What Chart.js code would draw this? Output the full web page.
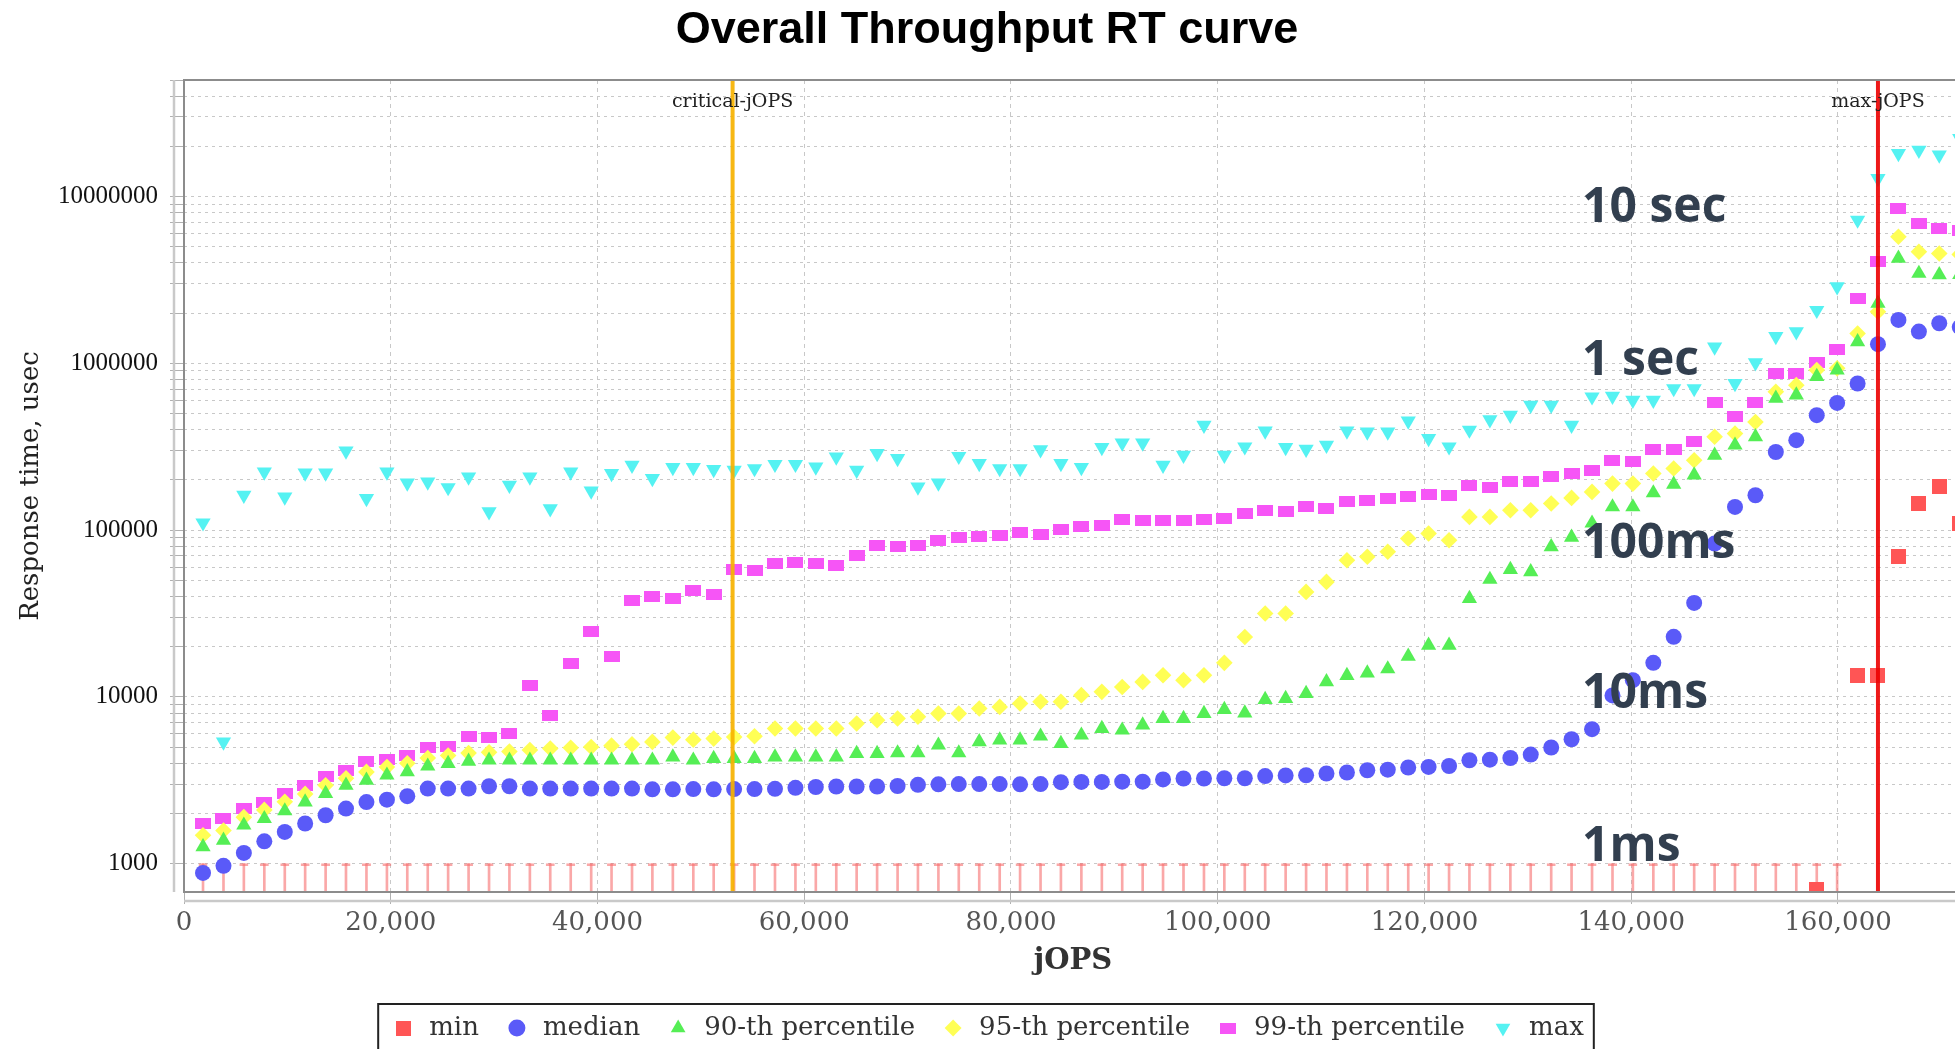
<!DOCTYPE html>
<html>
<head>
<meta charset="utf-8">
<title>Overall Throughput RT curve</title>
<script src="https://cdn.jsdelivr.net/npm/chart.js@4.4.1/dist/chart.umd.min.js"></script>
<style>
  html, body { margin: 0; padding: 0; background: #ffffff; overflow: hidden; }
  #wrap { width: 1972px; height: 1051px; }
  canvas { display: block; }
</style>
</head>
<body>
<div id="wrap"><canvas id="rt" width="1972" height="1051"></canvas></div>
<script>
// ---- RT-curve steps: throughput (jOPS) of each step ----
const jops = [
  1840, 3820, 5790, 7770, 9750, 11720, 13700, 15670, 17650, 19630,
  21600, 23580, 25550, 27530, 29510, 31480, 33460, 35430, 37410, 39390,
  41360, 43340, 45310, 47290, 49270, 51240, 53220, 55190, 57170, 59150,
  61120, 63100, 65070, 67050, 69030, 71000, 72980, 74950, 76930, 78910,
  80880, 82860, 84830, 86810, 88790, 90760, 92740, 94710, 96690, 98670,
  100640, 102620, 104590, 106570, 108550, 110520, 112500, 114470, 116450, 118430,
  120400, 122380, 124350, 126330, 128310, 130280, 132260, 134230, 136210, 138190,
  140160, 142140, 144110, 146090, 148070, 150040, 152020, 153990, 155970, 157950,
  159920, 161900, 163870, 165850, 167830, 169800, 171780
];

// ---- response times, usec (null = below the plotted range) ----
const minRt = [
  null, null, null, null, null, null, null, null, null, null,
  null, null, null, null, null, null, null, null, null, null,
  null, null, null, null, null, null, null, null, null, null,
  null, null, null, null, null, null, null, null, null, null,
  null, null, null, null, null, null, null, null, null, null,
  null, null, null, null, null, null, null, null, null, null,
  null, null, null, null, null, null, null, null, null, null,
  null, null, null, null, null, null, null, null, null, 700,
  null, 13400, 13400, 69000, 144500, 181500, 109000
];
const medianRt = [
  880, 970, 1160, 1360, 1550, 1740, 1950, 2140, 2340, 2420,
  2540, 2820, 2820, 2820, 2910, 2910, 2820, 2820, 2820, 2820,
  2820, 2820, 2790, 2790, 2800, 2790, 2800, 2800, 2810, 2850,
  2880, 2900, 2900, 2900, 2920, 2970, 2990, 3000, 3000, 3000,
  2990, 3000, 3080, 3090, 3090, 3100, 3100, 3200, 3240, 3240,
  3250, 3250, 3350, 3380, 3390, 3470, 3520, 3630, 3660, 3770,
  3800, 3850, 4170, 4200, 4300, 4510, 4970, 5570, 6400, 10200,
  12600, 16000, 22900, 36600, 83000, 137700, 161800, 294000, 346000, 489000,
  579000, 757000, 1303000, 1820000, 1550000, 1740000, 1650000
];
const p90Rt = [
  1260, 1380, 1700, 1860, 2070, 2340, 2630, 2950, 3160, 3390,
  3550, 3840, 3980, 4110, 4170, 4170, 4170, 4170, 4170, 4170,
  4170, 4170, 4170, 4360, 4170, 4260, 4260, 4260, 4360, 4360,
  4360, 4360, 4570, 4570, 4610, 4610, 5130, 4610, 5370, 5500,
  5500, 5810, 5250, 5890, 6460, 6310, 6770, 7420, 7420, 7940,
  8400, 8000, 9640, 9780, 10470, 12300, 13400, 13900, 14700, 17500,
  20400, 20400, 38900, 50600, 58000, 56200, 79400, 90400, 110000, 137700,
  137700, 167000, 188000, 214000, 281000, 323000, 363000, 617000, 646000, 832000,
  912000, 1346000, 2290000, 4260000, 3460000, 3390000, 3400000
];
const p95Rt = [
  1480, 1580, 1900, 2100, 2350, 2620, 2950, 3250, 3550, 3800,
  4000, 4300, 4450, 4600, 4650, 4700, 4800, 4900, 4950, 5000,
  5100, 5200, 5370, 5700, 5540, 5620, 5740, 5810, 6460, 6460,
  6460, 6460, 6920, 7250, 7420, 7600, 7940, 7940, 8510, 8710,
  9120, 9340, 9340, 10240, 10720, 11470, 12300, 13490, 12600, 13490,
  16000, 22880, 31600, 31600, 42600, 48900, 66000, 69200, 74100, 89100,
  95500, 87000, 120000, 120000, 131600, 131600, 144500, 156000, 169500, 190000,
  190000, 218500, 234000, 262500, 363000, 379000, 445000, 675000, 740000, 912000,
  933000, 1510000, 2040000, 5740000, 4670000, 4560000, 4500000
];
const p99Rt = [
  1740, 1860, 2140, 2340, 2650, 2950, 3340, 3630, 4070, 4200,
  4470, 4970, 5010, 5810, 5700, 6070, 11750, 7760, 15850, 24500,
  17520, 37600, 39800, 38900, 43600, 40900, 58000, 57500, 63000, 63600,
  63000, 61600, 70800, 81300, 80200, 81300, 86200, 90400, 91800, 93000,
  96200, 94300, 100800, 105400, 106900, 115800, 113500, 113500, 114600, 115800,
  117400, 125800, 131600, 128800, 137700, 134600, 147600, 151000, 154700, 158000,
  164000, 161800, 186000, 180000, 194500, 194500, 208500, 218500, 228600, 262500,
  256500, 304000, 304000, 338000, 579000, 478000, 579000, 871000, 871000, 1008000,
  1210000, 2450000, 4060000, 8490000, 6900000, 6440000, 6300000
];
const maxRt = [
  110600, 5370, 161800, 223400, 158000, 220000, 220000, 298000, 154700, 223400,
  192000, 194500, 180000, 208500, 128800, 186000, 208500, 134600, 223400, 171800,
  218500, 245000, 204000, 237500, 237500, 231000, 228600, 234000, 248000, 248000,
  239000, 275000, 228600, 288000, 268700, 181500, 192000, 277000, 250800, 234000,
  234000, 304000, 250800, 237500, 313000, 333500, 333500, 245000, 281000, 425500,
  281000, 315800, 393500, 313000, 306000, 323000, 393000, 388000, 388000, 452000,
  355000, 315800, 398000, 460000, 489000, 561000, 561000, 425500, 630000, 635000,
  601000, 601000, 706000, 706000, 1256000, 757000, 1008000, 1450000, 1550000, 2080000,
  2880000, 7230000, 12850000, 18150000, 19000000, 17750000, 22340000
];

// ---- reference levels ----
const CRITICAL_JOPS = 53070;
const MAX_JOPS = 163870;
const ONE_MS = 1000;              // top of the min-range whiskers

// ---- axes ----
const X_MIN = 0, X_MAX = 172000;
const Y_MIN = 676, Y_MAX = 50000000;
const xTickValues = [0, 20000, 40000, 60000, 80000, 100000, 120000, 140000, 160000];
const yDecades = [1000, 10000, 100000, 1000000, 10000000];
const yMinorSteps = [1, 2, 3, 4, 5, 6, 7, 8, 9];

// ---- time-unit captions along the right side ----
const rtCaptions = ['10 sec', '1 sec', '100ms', '10ms', '1ms'];
const rtCaptionValues = [10000000, 1000000, 100000, 10000, 1000];
const RT_CAPTION_JOPS = 135250;

const seriesNames = ['min', 'median', '90-th percentile', '95-th percentile', '99-th percentile', 'max'];
const markerLines = [
  { label: 'critical-jOPS', value: CRITICAL_JOPS, color: 'rgba(246,178,0,0.92)' },
  { label: 'max-jOPS', value: MAX_JOPS, color: 'rgba(236,0,0,0.9)' }
];

// ---------------------------------------------------------------------------
const COLORS = {
  min: '#ff5555', median: '#5a5af8', p90: '#55ee55',
  p95: '#ffff55', p99: '#f655f6', max: '#55f2f2'
};
const WHISKER = 'rgba(246,110,110,0.6)';

function rectMarker(w, h, color) {
  const c = document.createElement('canvas');
  c.width = w; c.height = h;
  const g = c.getContext('2d');
  g.fillStyle = color;
  g.fillRect(0, 0, w, h);
  return c;
}

function pts(values) {
  return jops.map((x, i) => ({ x, y: values[i] }));
}

const yTickValues = [];
yDecades.concat([100000000]).forEach(d => {
  yMinorSteps.forEach(m => {
    const v = m * d;
    if (v >= Y_MIN && v <= Y_MAX) yTickValues.push(v);
  });
});

const whiskerIdx = jops.map((_, i) => i).filter(i => minRt[i] === null || minRt[i] < ONE_MS);
const whiskerData = whiskerIdx.map(i => ({ x: jops[i], y: [minRt[i] === null ? Y_MIN / 2 : minRt[i], ONE_MS] }));

function pointSeries(label, values, color, style, radius, order, rotation) {
  return {
    type: 'scatter', label, data: pts(values),
    pointStyle: style, pointRadius: radius, pointHoverRadius: radius,
    pointRotation: rotation || 0,
    backgroundColor: color, borderColor: color, borderWidth: 0,
    pointBorderWidth: 0, order, clip: 0
  };
}

const plotDecor = {
  id: 'plotDecor',
  afterDatasetsDraw(chart) {
    const { ctx, chartArea: a, scales: { x, y } } = chart;
    ctx.save();
    // axis lines set slightly apart from the plot frame
    ctx.strokeStyle = '#c9c9c9';
    ctx.lineWidth = 2.5;
    ctx.beginPath();
    ctx.moveTo(a.left - 10, a.top); ctx.lineTo(a.left - 10, a.bottom);
    ctx.moveTo(a.left, a.bottom + 9); ctx.lineTo(a.right, a.bottom + 9);
    ctx.stroke();
    // plot frame
    ctx.strokeStyle = '#8c8c8c';
    ctx.lineWidth = 2;
    ctx.strokeRect(a.left, a.top, a.right - a.left, a.bottom - a.top);
    // labels of the vertical reference lines
    ctx.font = '19px "DejaVu Serif"';
    ctx.fillStyle = '#222';
    ctx.textAlign = 'center';
    ctx.textBaseline = 'alphabetic';
    markerLines.forEach(m => ctx.fillText(m.label, x.getPixelForValue(m.value), a.top + 27));
    // time-unit captions
    const nudge = [25, 12, 28, 11, -3];
    ctx.font = 'bold 48px "Open Sans"';
    ctx.fillStyle = '#323f4f';
    ctx.textAlign = 'left';
    rtCaptions.forEach((t, i) => {
      ctx.fillText(t, x.getPixelForValue(RT_CAPTION_JOPS), y.getPixelForValue(rtCaptionValues[i]) + nudge[i]);
    });
    ctx.restore();
  },
  afterDraw(chart) {
    const hb = chart.legend && chart.legend.legendHitBoxes;
    if (!hb || !hb.length) return;
    const { ctx } = chart;
    const left = Math.min(...hb.map(h => h.left)) - 12;
    const right = Math.max(...hb.map(h => h.left + h.width)) + 10;
    const top = hb[0].top - 11;
    const bottom = hb[0].top + hb[0].height + 12;
    ctx.save();
    ctx.strokeStyle = '#222';
    ctx.lineWidth = 2;
    ctx.strokeRect(left, top, right - left, bottom - top);
    ctx.restore();
  }
};

function build() {
  const datasets = [
    pointSeries(seriesNames[0], minRt, COLORS.min, rectMarker(15, 15, COLORS.min), 8, 1),
    pointSeries(seriesNames[1], medianRt, COLORS.median, 'circle', 8, 2),
    pointSeries(seriesNames[2], p90Rt, COLORS.p90, 'triangle', 8.8, 3),
    pointSeries(seriesNames[3], p95Rt, COLORS.p95, 'rectRot', 8.3, 4),
    pointSeries(seriesNames[4], p99Rt, COLORS.p99, rectMarker(16, 11, COLORS.p99), 8, 5),
    pointSeries(seriesNames[5], maxRt, COLORS.max, 'triangle', 8.8, 6, 180),
    {
      type: 'bar', label: 'min stem', data: whiskerData,
      barThickness: 2, backgroundColor: WHISKER, borderWidth: 0,
      grouped: false, order: 10, clip: 0
    },
    {
      type: 'bar', label: 'min cap', data: whiskerData,
      barThickness: 9, backgroundColor: 'rgba(0,0,0,0)', borderColor: WHISKER,
      borderWidth: { top: 2, right: 0, bottom: 0, left: 0 }, borderSkipped: false,
      grouped: false, order: 10, clip: 0
    }
  ];
  markerLines.forEach(m => datasets.push({
    type: 'line', label: m.label,
    data: [{ x: m.value, y: Y_MIN }, { x: m.value, y: Y_MAX }],
    borderColor: m.color, borderWidth: 4, pointRadius: 0, order: 0, clip: 0
  }));

  new Chart(document.getElementById('rt'), {
    type: 'scatter',
    data: { datasets },
    plugins: [plotDecor],
    options: {
      responsive: false,
      devicePixelRatio: 1,
      animation: false,
      events: [],
      layout: { padding: { left: 12, right: 10, top: 0, bottom: 0 } },
      plugins: {
        tooltip: { enabled: false },
        title: {
          display: true,
          text: 'Overall Throughput RT curve',
          color: '#000',
          font: { family: 'Liberation Sans', size: 45, weight: 'bold' },
          padding: { top: 3.5, bottom: 22.5 }
        },
        legend: {
          position: 'bottom',
          labels: {
            filter: item => item.datasetIndex < seriesNames.length,
            usePointStyle: true,
            boxHeight: 12,
            padding: 25,
            color: '#333',
            font: { family: 'DejaVu Serif', size: 26 }
          }
        }
      },
      scales: {
        x: {
          type: 'linear', min: X_MIN, max: X_MAX, offset: false,
          afterBuildTicks: s => { s.ticks = xTickValues.map(v => ({ value: v })); },
          afterFit: s => { s.height = 98; },
          grid: { color: '#c8c8c8', lineWidth: 1, tickLength: 12, offset: false, tickColor: '#b0b0b0' },
          border: { display: false, dash: [4, 4] },
          ticks: {
            autoSkip: false, maxRotation: 0, padding: 4, color: '#555',
            font: { family: 'DejaVu Serif', size: 26 },
            callback: v => Number(v).toLocaleString('en-US')
          },
          title: {
            display: true, text: 'jOPS', color: '#333',
            font: { family: 'DejaVu Serif', size: 29, weight: 'bold' },
            padding: { top: 0, bottom: 11 }
          }
        },
        y: {
          type: 'logarithmic', min: Y_MIN, max: Y_MAX,
          afterBuildTicks: s => { s.ticks = yTickValues.map(v => ({ value: v, major: yDecades.includes(v) })); },
          afterFit: s => { s.width = 172; },
          grid: { color: '#c8c8c8', lineWidth: 1, tickLength: 14, tickColor: '#b0b0b0' },
          border: { display: false, dash: [3, 4] },
          ticks: {
            autoSkip: false, padding: 12, color: '#111',
            font: { family: 'Liberation Serif', size: 25 },
            callback: v => (yDecades.includes(v) ? String(v) : '')
          },
          title: {
            display: true, text: 'Response time, usec', color: '#222',
            font: { family: 'DejaVu Serif', size: 26 },
            padding: { top: 4, bottom: 0 }
          }
        }
      }
    }
  });
}

const fontList = ['bold 45px "Liberation Sans"', '26px "DejaVu Serif"', 'bold 29px "DejaVu Serif"',
  '25px "Liberation Serif"', 'bold 48px "Open Sans"'];
Promise.all(fontList.map(f => document.fonts.load(f).catch(() => null))).then(build, build);
</script>
</body>
</html>
